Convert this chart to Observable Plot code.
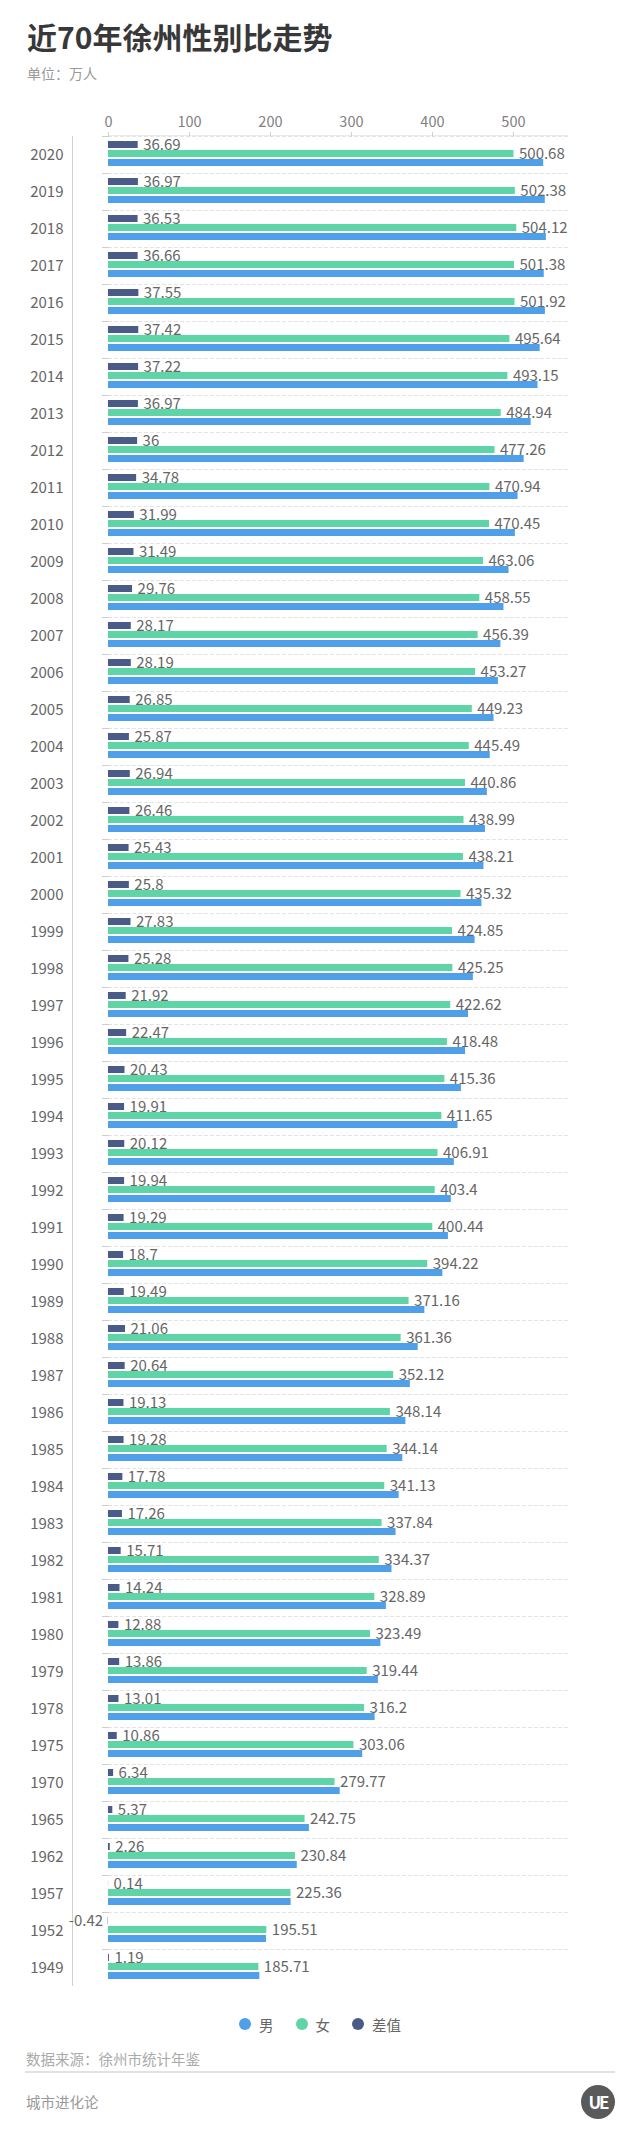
<!DOCTYPE html>
<html>
<head>
<meta charset="utf-8">
<script src="https://cdn.jsdelivr.net/npm/d3@7"></script>
<script src="https://cdn.jsdelivr.net/npm/@observablehq/plot@0.6"></script>
<style>
  html, body { margin: 0; padding: 0; background: #fff; }
  #wrap { position: relative; width: 640px; height: 2133px; font-family: "Noto Sans CJK SC", "Noto Sans", sans-serif; }
  .abs { position: absolute; white-space: nowrap; }
  #legend { position: absolute; left: 0; top: 2012px; width: 640px; height: 24px; display: flex; justify-content: center; align-items: center; font-size: 14.5px; color: #666; }
  .item { display: flex; align-items: center; margin: 0 11px; }
  .dot { width: 12px; height: 12px; border-radius: 50%; margin-right: 8px; }
</style>
</head>
<body>
<div id="wrap">
  <div class="abs" style="left:27px;top:21px;font-size:30px;line-height:30px;font-weight:700;color:#383838;">近70年徐州性别比走势</div>
  <div class="abs" style="left:27px;top:66px;font-size:14px;line-height:14px;color:#999;">单位：万人</div>
  <div id="chart" class="abs" style="left:0;top:90px;"></div>
  <div id="legend"></div>
  <div class="abs" style="left:26px;top:2051px;font-size:14.5px;line-height:15px;color:#aaa;">数据来源：徐州市统计年鉴</div>
  <div class="abs" style="left:25px;top:2071px;width:590px;height:2px;background:#e2e2e2;"></div>
  <div class="abs" style="left:26px;top:2094px;font-size:14.5px;line-height:15px;color:#999;">城市进化论</div>
  <div class="abs" style="left:581px;top:2085px;width:34px;height:34px;border-radius:50%;background:#5a5a5a;color:#fff;font-weight:700;font-size:17px;line-height:34px;text-align:center;letter-spacing:-2px;">UE</div>
</div>
<script>
const years = ["2020","2019","2018","2017","2016","2015","2014","2013","2012","2011","2010","2009","2008","2007","2006","2005","2004","2003","2002","2001","2000","1999","1998","1997","1996","1995","1994","1993","1992","1991","1990","1989","1988","1987","1986","1985","1984","1983","1982","1981","1980","1979","1978","1975","1970","1965","1962","1957","1952","1949"];
const female = [500.68,502.38,504.12,501.38,501.92,495.64,493.15,484.94,477.26,470.94,470.45,463.06,458.55,456.39,453.27,449.23,445.49,440.86,438.99,438.21,435.32,424.85,425.25,422.62,418.48,415.36,411.65,406.91,403.4,400.44,394.22,371.16,361.36,352.12,348.14,344.14,341.13,337.84,334.37,328.89,323.49,319.44,316.2,303.06,279.77,242.75,230.84,225.36,195.51,185.71];
const diff = [36.69,36.97,36.53,36.66,37.55,37.42,37.22,36.97,36,34.78,31.99,31.49,29.76,28.17,28.19,26.85,25.87,26.94,26.46,25.43,25.8,27.83,25.28,21.92,22.47,20.43,19.91,20.12,19.94,19.29,18.7,19.49,21.06,20.64,19.13,19.28,17.78,17.26,15.71,14.24,12.88,13.86,13.01,10.86,6.34,5.37,2.26,0.14,-0.42,1.19];
const male = [537.37,539.35,540.65,538.04,539.47,533.06,530.37,521.91,513.26,505.72,502.44,494.55,488.31,484.56,481.46,476.08,471.36,467.8,465.45,463.64,461.12,452.68,450.53,444.54,440.95,435.79,431.56,427.03,423.34,419.73,412.92,390.65,382.42,372.76,367.27,363.42,358.91,355.1,350.08,343.13,336.37,333.3,329.21,313.92,286.11,248.12,233.1,225.5,195.09,186.9];
const seriesNames = ["男","女","差值"];
const seriesColors = ["#4fa0e8","#5fd4a6","#4b5b88"];
const xTicks = [0,100,200,300,400,500];
const xDomain = [-44.4, 568];

const rows = years.flatMap((y, i) => [
  {year: y, series: "差值", value: diff[i]},
  {year: y, series: "女", value: female[i]},
  {year: y, series: "男", value: male[i]}
]);
const labelRows = rows.filter(d => d.series !== "男");

const W = 640, H = 1920, MT = 32, MB = 10, ML = 72, MR = 72;
const S = (H - MT - MB) / years.length;
const pxPerUnit = (W - ML - MR) / (xDomain[1] - xDomain[0]);
const zeroInset = (0 - xDomain[0]) * pxPerUnit;

const chart = Plot.plot({
  width: W, height: H,
  marginTop: MT, marginBottom: MB, marginLeft: ML, marginRight: MR,
  style: {fontFamily: "'Noto Sans CJK SC', 'Noto Sans', sans-serif", background: "transparent", overflow: "visible"},
  x: {domain: xDomain},
  y: {domain: ["差值","女","男"], paddingInner: 0.2, paddingOuter: 0.6, align: 0.45, axis: null},
  fy: {domain: years, padding: 0},
  color: {domain: seriesNames, range: seriesColors},
  marks: [
    Plot.frame({anchor: "top", stroke: "#e4e4e4", strokeDasharray: "3,3", insetLeft: zeroInset}),
    Plot.frame({anchor: "top", stroke: "#cfcfcf", insetLeft: zeroInset - 6, insetRight: (W - ML - MR) - zeroInset}),
    Plot.barX([years[0]], {fy: d => d, x1: 0, x2: xDomain[1], fill: "#d2d2d2", insetTop: -0.5, insetBottom: S - 0.5}),
    Plot.ruleX([xDomain[0]], {stroke: "#d0d0d0"}),
    Plot.barX(rows, {fy: "year", y: "series", x: "value", fill: "series"}),
    Plot.text(labelRows.filter(d => d.value >= 0), {fy: "year", y: "series", x: "value", text: d => String(d.value), textAnchor: "start", dx: 5, fontSize: 15, fill: "#666"}),
    Plot.text(labelRows.filter(d => d.value < 0), {fy: "year", y: "series", x: "value", text: d => String(d.value), textAnchor: "end", dx: -5, fontSize: 15, fill: "#666"}),
    Plot.axisX({anchor: "top", ticks: xTicks, tickSize: 5, tickPadding: 5, fontSize: 14.5, stroke: "#cfcfcf", fill: "#808080", label: null}),
    Plot.axisFy({anchor: "left", tickSize: 0, tickPadding: 9, fontSize: 15, fill: "#666", label: null})
  ]
});
document.getElementById("chart").appendChild(chart);

const legend = document.getElementById("legend");
seriesNames.forEach((name, i) => {
  const item = document.createElement("div");
  item.className = "item";
  const dot = document.createElement("span");
  dot.className = "dot";
  dot.style.background = seriesColors[i];
  const label = document.createElement("span");
  label.textContent = name;
  item.appendChild(dot);
  item.appendChild(label);
  legend.appendChild(item);
});
</script>
</body>
</html>
